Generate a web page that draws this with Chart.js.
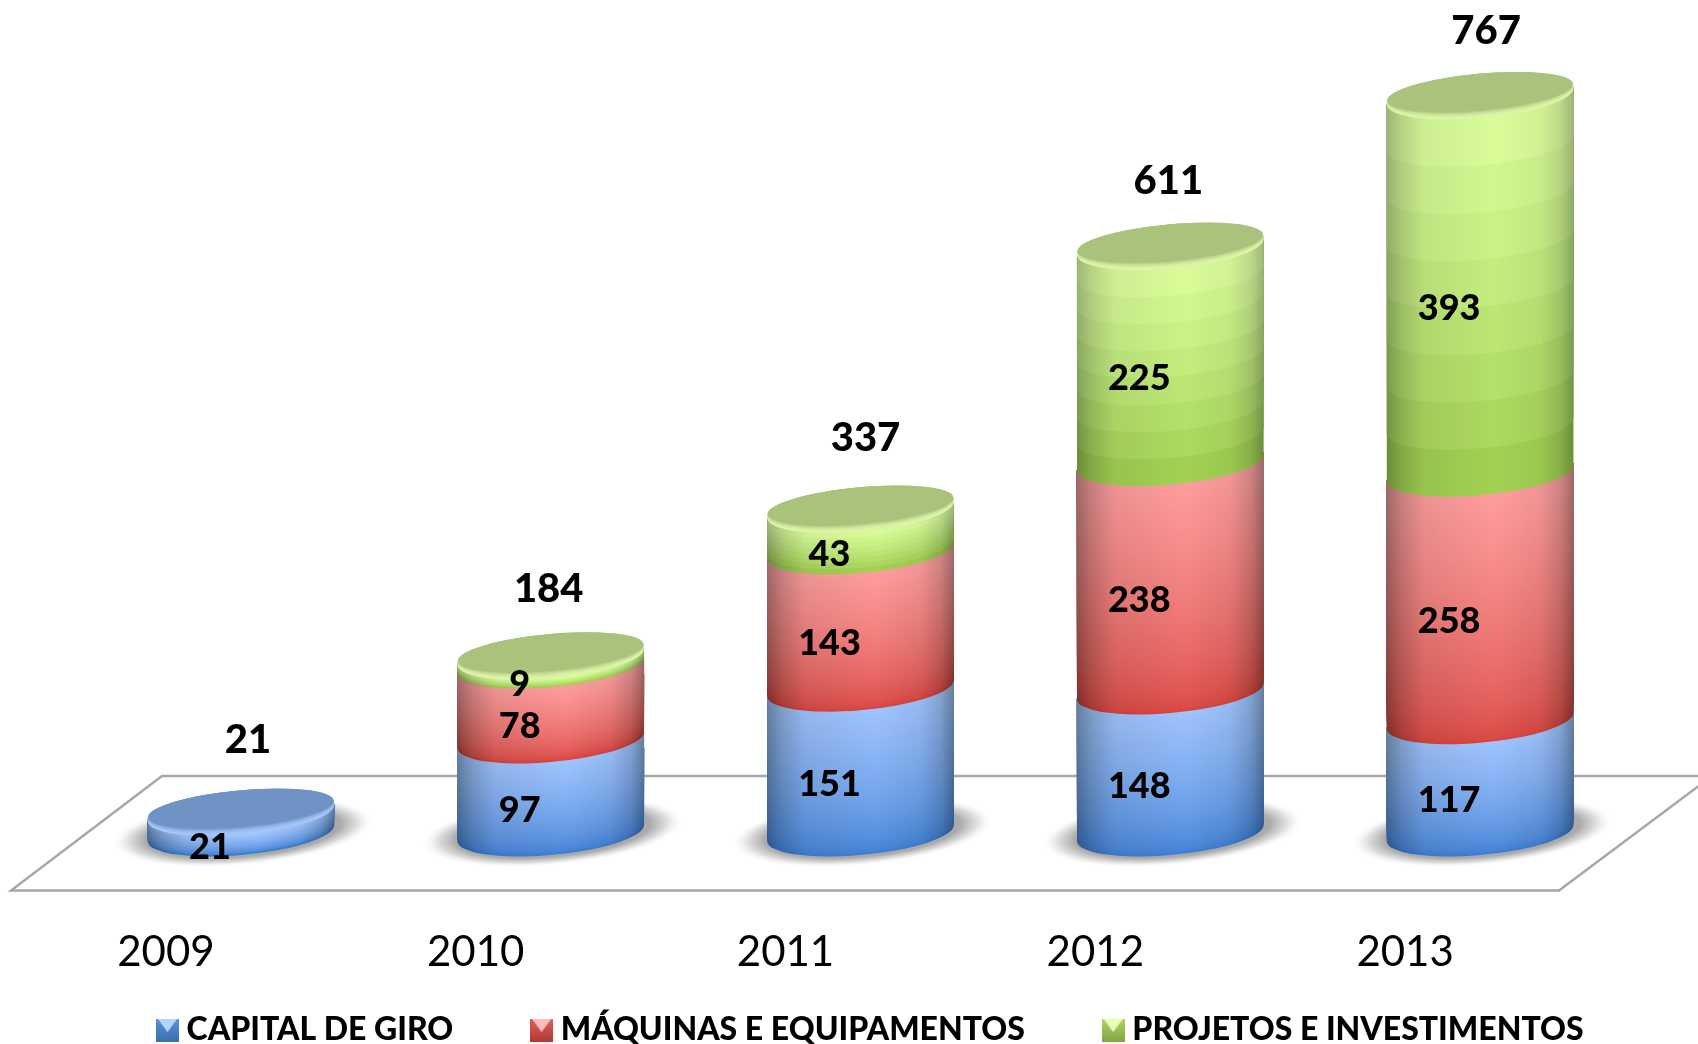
<!DOCTYPE html>
<html>
<head>
<meta charset="utf-8">
<style>html,body{margin:0;padding:0;background:#fff;overflow:hidden}canvas{display:block}</style>
<script src="https://cdn.jsdelivr.net/npm/chart.js@4/dist/chart.umd.min.js"></script>
</head>
<body>
<canvas id="c" width="1698" height="1044"></canvas>
<script>
const years = ['2009','2010','2011','2012','2013'];
const capitalDeGiro = [21,97,151,148,117];
const maquinas = [0,78,143,238,258];
const projetos = [0,9,43,225,393];
const totals = [21,184,337,611,767];
const seriesNames = ['CAPITAL DE GIRO','MÁQUINAS E EQUIPAMENTOS','PROJETOS E INVESTIMENTOS'];

const FONT = 'Lato, Carlito, "Open Sans", sans-serif';
const styles = [
  {tc:'#9fc4ff',bc:'#3e7fd4',te:'#66809f',be:'#2a5590',cap:'#7093c6',lip:'#a3c8f8',bands:0,mark:['#b0d6fb','#5b92d4','#3b6fb0']},
  {tc:'#ff9d9d',bc:'#da463f',te:'#a06a6a',be:'#822a25',cap:'#d07070',lip:'#ffb0b0',bands:0,mark:['#ffbdbd','#df5f59','#b23b36']},
  {tc:'#dcff9c',bc:'#9ccb4a',te:'#a0b97c',be:'#648630',cap:'#a9c27c',lip:'#dcf5a6',bands:8,mark:['#e8ffb5','#aed565','#82a644']}
];
const RATIO = 22/93.5, TILT = -5.2*Math.PI/180;
const totalDx = [7,-2,5,-2,6];
const totalDy = [-72.5,-67.5,-71.5,-65.5,-66.5];
const LEGEND_SHIFT=25, LEGEND_TOP=928.8;

function hex(c){return [1,3,5].map(i=>parseInt(c.substr(i,2),16));}
function lerp(a,b,t){const A=hex(a),B=hex(b);return A.map((v,i)=>Math.round(v+(B[i]-v)*t));}
function mix(a,b,t){return 'rgb('+lerp(a,b,t).join(',')+')';}

function silhouette(ctx,cx,yT,yB,a,b,tr){
  ctx.beginPath();
  ctx.ellipse(cx,yB,a,b,TILT,tr,tr+Math.PI,false);
  ctx.ellipse(cx,yT,a,b,TILT,tr+Math.PI,tr+2*Math.PI,false);
  ctx.closePath();
}
function drawSegment(ctx,cx,yT,yB,rx,st){
  const b=rx*RATIO, a=rx*1.002, tr=Math.atan(-(b/a)*Math.tan(TILT));
  const h=yB-yT, n=st.bands||Math.max(2,Math.round(h/2));
  for(let k=0;k<n;k++){
    const y=yB-h*k/n, t0=st.bands?(k+.5)/n:k/(n-1||1), t=Math.pow(t0,st.bands?.8:.65);
    const g=ctx.createLinearGradient(cx-rx,0,cx+rx,0);
    const E=lerp(st.be,st.te,t), C=lerp(st.bc,st.tc,t);
    const at=f=>'rgb('+E.map((v,i)=>Math.round(v+(C[i]-v)*f)).join(',')+')';
    g.addColorStop(0,at(0));
    g.addColorStop(.08,at(.42));
    g.addColorStop(.2,at(.8));
    g.addColorStop(.58,at(1));
    g.addColorStop(.82,at(.85));
    g.addColorStop(.93,at(.5));
    g.addColorStop(1,at(0));
    ctx.fillStyle=g;
    silhouette(ctx,cx,yT,y,a,b,tr);
    ctx.fill();
  }
}
function drawCap(ctx,cx,y,rx,st){
  const b=rx*RATIO,a=rx*1.002,steps=6;
  for(let s=0;s<=steps;s++){
    const f=s/steps;
    ctx.fillStyle=mix(st.lip,st.cap,f*f);
    ctx.beginPath();
    ctx.ellipse(cx,y-4*f,a-.5*f,b-3.5*f,TILT,0,Math.PI*2);
    ctx.fill();
  }
}
function drawShadow(ctx,cx,y,rx){
  ctx.save();
  ctx.translate(cx+2,y-1);ctx.rotate(TILT);ctx.scale(1,33/130);
  const g=ctx.createRadialGradient(0,0,60,0,0,130);
  g.addColorStop(0,'rgba(125,125,125,.8)');
  g.addColorStop(.55,'rgba(145,145,145,.76)');
  g.addColorStop(.76,'rgba(180,180,180,.5)');
  g.addColorStop(1,'rgba(235,235,235,0)');
  ctx.fillStyle=g;ctx.beginPath();ctx.arc(0,0,130,0,Math.PI*2);ctx.fill();
  ctx.restore();
}
function marker(st){
  const s=23,cv=document.createElement('canvas');cv.width=s;cv.height=s;
  const c=cv.getContext('2d');
  const g=c.createLinearGradient(0,0,0,s);
  g.addColorStop(0,st.mark[1]);g.addColorStop(1,st.mark[2]);
  c.fillStyle=g;c.fillRect(0,0,s,s);
  c.fillStyle=st.mark[0];c.beginPath();c.moveTo(1.5,0);c.lineTo(s-1.5,0);c.lineTo(s/2,s/2+2);c.closePath();c.fill();
  return cv;
}
const markers = styles.map(marker);

const cylinders = {
  id:'cylinders',
  afterLayout(chart){
    const l=chart.legend;
    l.left+=LEGEND_SHIFT;l.right+=LEGEND_SHIFT;
    const d=LEGEND_TOP-l.top;l.top+=d;l.bottom+=d;
  },
  beforeDatasetsDraw(chart){
    const ctx=chart.ctx,y0=chart.scales.y.getPixelForValue(0);
    const yBack=y0-57,yFront=y0+57.5;
    const metas=chart.getDatasetMeta(0).data;
    ctx.save();
    ctx.strokeStyle='#a6a6a6';ctx.lineWidth=2.4;ctx.lineJoin='miter';
    ctx.beginPath();
    ctx.moveTo(1760,yBack);ctx.lineTo(162,yBack);ctx.lineTo(11,yFront);ctx.lineTo(1559,yFront);ctx.lineTo(1712,yBack);
    ctx.stroke();
    metas.forEach(el=>drawShadow(ctx,el.x,y0,el.width/2));
    ctx.restore();
  },
  beforeDatasetDraw(){return false;},
  afterDatasetsDraw(chart){
    const ctx=chart.ctx,ys=chart.scales.y;
    years.forEach((_,i)=>{
      let top=null,cx,rx,si=0;
      chart.data.datasets.forEach((ds,d)=>{
        if(!ds.data[i])return;
        const el=chart.getDatasetMeta(d).data[i];
        cx=el.x;rx=el.width/2;
        drawSegment(ctx,cx,el.y,el.base,rx,styles[d]);
        top=el.y;si=d;
      });
      drawCap(ctx,cx,top,rx,styles[si]);
    });
    ctx.fillStyle='#000';ctx.textAlign='center';ctx.textBaseline='middle';
    ctx.font='900 36px '+FONT;
    chart.data.datasets.forEach((ds,d)=>{
      ds.data.forEach((v,i)=>{
        if(!v)return;
        const el=chart.getDatasetMeta(d).data[i];
        ctx.fillText(String(v),el.x-31,(el.y+el.base)/2+24);
      });
    });
    ctx.font='900 40px '+FONT;
    totals.forEach((v,i)=>{
      const el=chart.getDatasetMeta(0).data[i];
      ctx.fillText(String(v),el.x+totalDx[i],ys.getPixelForValue(v)+totalDy[i]);
    });
  }
};

new Chart(document.getElementById('c').getContext('2d'),{
  type:'bar',
  data:{labels:years,datasets:[
    {label:seriesNames[0],data:capitalDeGiro,backgroundColor:'#4f87cf'},
    {label:seriesNames[1],data:maquinas,backgroundColor:'#d9544e'},
    {label:seriesNames[2],data:projetos,backgroundColor:'#a7d05c'}
  ]},
  options:{
    responsive:false,animation:false,
    layout:{padding:{left:0,right:0,top:27.1,bottom:-73.7}},
    datasets:{bar:{categoryPercentage:1,barPercentage:.6036}},
    plugins:{
      tooltip:{enabled:false},
      legend:{
        position:'bottom',
        labels:{
          usePointStyle:true,pointStyleWidth:6.2,padding:85.2,color:'#000',
          font:{family:FONT,size:32,weight:'900',lineHeight:1},
          generateLabels(chart){
            return chart.data.datasets.map((ds,i)=>({text:ds.label,fillStyle:ds.backgroundColor,strokeStyle:ds.backgroundColor,lineWidth:0,pointStyle:markers[i],hidden:false,datasetIndex:i}));
          }
        }
      }
    },
    scales:{
      x:{stacked:true,
        grid:{display:false,drawTicks:false},border:{display:false},
        ticks:{display:true,autoSkip:false,color:'#000',font:{family:FONT,size:42},padding:94.5,labelOffset:-75,maxRotation:0},
        afterFit(s){s.height=157.5;}
      },
      y:{stacked:true,min:0,max:840,position:'left',
        grid:{display:false},border:{display:false},ticks:{display:false},
        afterFit(s){s.width=86;}},
      yRight:{position:'right',min:0,max:840,
        grid:{display:false},border:{display:false},ticks:{display:false},
        afterFit(s){s.width=63;}}
    }
  },
  plugins:[cylinders]
});
</script>
</body>
</html>
